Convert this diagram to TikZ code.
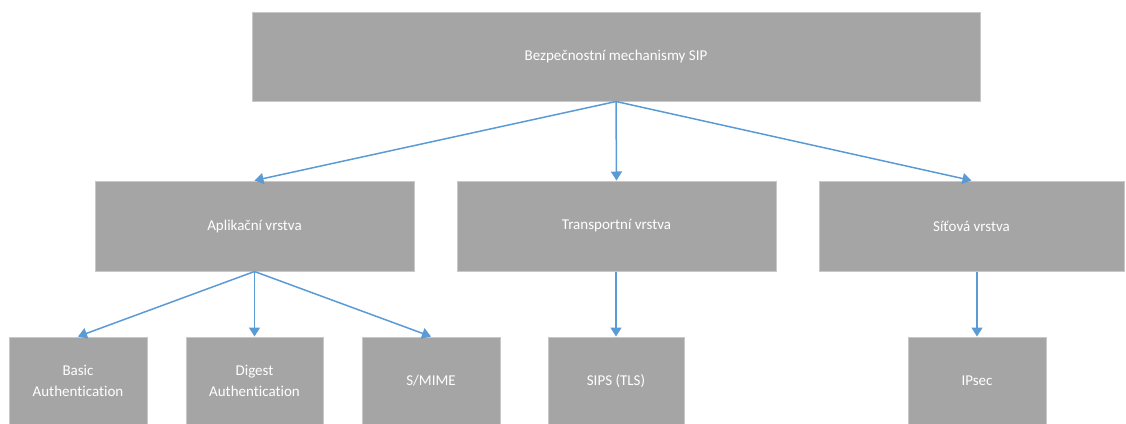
\documentclass[tikz,border=0pt]{standalone}
\usepackage{fontspec}
\setmainfont[Ligatures=NoCommon]{Carlito}
\usetikzlibrary{arrows.meta}
\definecolor{boxgray}{HTML}{A5A5A5}
\definecolor{boxedge}{HTML}{C8C8C8}
\definecolor{arrowblue}{HTML}{5B9BD5}
\tikzset{
  blk/.style={draw=boxedge, line width=1pt, fill=boxgray, text=white, font=\fontsize{15}{21}\selectfont, align=center, inner sep=0pt},
  lbl/.style={text=white, font=\fontsize{15}{21}\selectfont, align=center, inner sep=0pt},
  conn/.style={draw=arrowblue, line width=1.5pt, -{Triangle[length=9pt,width=11pt]}}
}
\begin{document}
\begin{tikzpicture}[x=1pt,y=-1pt]
\useasboundingbox (0,0) rectangle (1126,423);
\clip (0,0) rectangle (1126,423);
% top
\node[blk, minimum width=728pt, minimum height=89pt] (top) at (616,56.5) {Bezpečnostní mechanismy SIP};
% level 2
\node[blk, minimum width=319pt, minimum height=90pt] (apl) at (254.5,226) {Aplikační vrstva};
\node[blk, minimum width=319pt, minimum height=90pt] (tra) at (616.5,226) {Transportní vrstva};
\node[blk, minimum width=305pt, minimum height=90pt] (sit) at (971.5,226) {Síťová vrstva};
% level 3 (extend below the frame)
\node[blk, minimum width=138pt, minimum height=130pt] (bas) at (78,402) {};
\node[blk, minimum width=137pt, minimum height=130pt] (dig) at (254.5,402) {};
\node[blk, minimum width=138pt, minimum height=130pt] (smi) at (431,402) {};
\node[blk, minimum width=136pt, minimum height=130pt] (sip) at (616,402) {};
\node[blk, minimum width=138pt, minimum height=130pt] (ips) at (977,402) {};
% labels of level 3
\node[lbl] (basl) at (78,381) {Basic\\Authentication};
\node[lbl] (digl) at (254.5,381) {Digest\\Authentication};
\node[lbl] (smil) at (431,381) {S/MIME};
\node[lbl] (sipl) at (616,381) {SIPS (TLS)};
\node[lbl] (ipsl) at (977,381) {IPsec};
% connectors
\draw[conn] (top.south) -- (apl.north);
\draw[conn] (top.south) -- (tra.north);
\draw[conn] (top.south) -- (sit.north);
\draw[conn] (apl.south) -- (bas.north);
\draw[conn] (apl.south) -- (dig.north);
\draw[conn] (apl.south) -- (smi.north);
\draw[conn] (tra.south -| sip.north) -- (sip.north);
\draw[conn] (sit.south -| ips.north) -- (ips.north);
\end{tikzpicture}
\end{document}
